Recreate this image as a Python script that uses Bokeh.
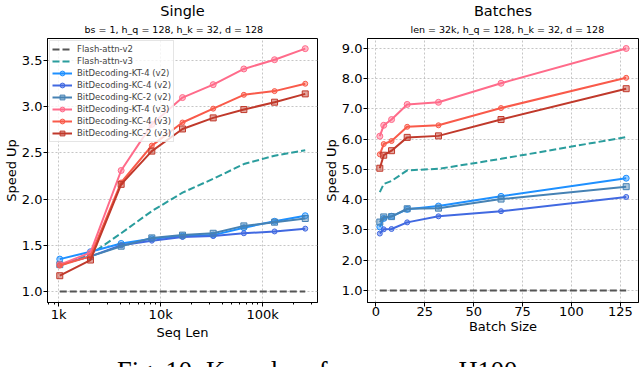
from bokeh.plotting import figure
from bokeh.models import Range1d, FixedTicker, PrintfTickFormatter, CustomJSTickFormatter, Label, Title
from bokeh.layouts import column, row
from bokeh.embed import file_html
from bokeh.resources import INLINE

# ---------------- data ----------------
series_names = ["Flash-attn-v2", "Flash-attn-v3",
                "BitDecoding-KT-4 (v2)", "BitDecoding-KC-4 (v2)", "BitDecoding-KC-2 (v2)",
                "BitDecoding-KT-4 (v3)", "BitDecoding-KC-4 (v3)", "BitDecoding-KC-2 (v3)"]

seq_len = [1024, 2048, 4096, 8192, 16384, 32768, 65536, 131072, 262144]
single_fa2 = [1.0, 1.0, 1.0, 1.0, 1.0, 1.0, 1.0, 1.0, 1.0]
single_fa3 = [1.28, 1.40, 1.63, 1.87, 2.07, 2.22, 2.38, 2.47, 2.53]
single_kt4_v2 = [1.35, 1.43, 1.52, 1.57, 1.60, 1.61, 1.69, 1.76, 1.82]
single_kc4_v2 = [1.29, 1.38, 1.50, 1.55, 1.59, 1.60, 1.63, 1.65, 1.68]
single_kc2_v2 = [1.29, 1.38, 1.49, 1.58, 1.61, 1.63, 1.71, 1.75, 1.79]
single_kt4_v3 = [1.29, 1.42, 2.31, 2.81, 3.10, 3.24, 3.41, 3.51, 3.63]
single_kc4_v3 = [1.28, 1.38, 2.18, 2.58, 2.83, 2.98, 3.13, 3.17, 3.25]
single_kc2_v3 = [1.17, 1.34, 2.16, 2.52, 2.76, 2.88, 2.97, 3.05, 3.14]

batch_size = [2, 4, 8, 16, 32, 64, 128]
batch_fa2 = [1.0, 1.0, 1.0, 1.0, 1.0, 1.0, 1.0]
batch_fa3 = [4.25, 4.52, 4.62, 4.97, 5.02, 5.35, 6.07]
batch_kt4_v2 = [3.10, 3.38, 3.45, 3.68, 3.79, 4.11, 4.71]
batch_kc4_v2 = [2.88, 3.02, 3.03, 3.25, 3.45, 3.62, 4.09]
batch_kc2_v2 = [3.26, 3.43, 3.44, 3.70, 3.72, 4.02, 4.43]
batch_kt4_v3 = [6.10, 6.46, 6.65, 7.15, 7.22, 7.85, 9.00]
batch_kc4_v3 = [5.50, 5.84, 5.94, 6.41, 6.46, 7.03, 8.03]
batch_kc2_v3 = [5.04, 5.47, 5.62, 6.06, 6.11, 6.65, 7.67]

single_ticks_y = [1.0, 1.5, 2.0, 2.5, 3.0, 3.5]
single_ticks_x = [1000, 10000, 100000]
single_minor_x = [800, 900, 2000, 3000, 4000, 5000, 6000, 7000, 8000, 9000,
                  20000, 30000, 40000, 50000, 60000, 70000, 80000, 90000, 200000, 300000]
batch_ticks_y = [1.0, 2.0, 3.0, 4.0, 5.0, 6.0, 7.0, 8.0, 9.0]
batch_ticks_x = [0, 25, 50, 75, 100, 125]

colors = ["#555555", "#2a9d9d", "#1e90ff", "#4169e1", "#4682b4", "#ff6b8a", "#f95a4a", "#c0392b"]
markers = [None, None, "circle", "circle", "square", "circle", "circle", "square"]
msizes = [0, 0, 6, 5, 6, 6, 5, 6]

FONT = "DejaVu Sans"
H = 342


def style(p, yticks, ylab, xlab):
    for ax in (p.xaxis, p.yaxis):
        ax.major_label_text_font = FONT
        ax.major_label_text_font_size = "13px"
        ax.major_label_text_color = "black"
        ax.axis_label_text_font = FONT
        ax.axis_label_text_font_size = "13px"
        ax.axis_label_text_font_style = "normal"
        ax.axis_label_text_color = "black"
        ax.major_tick_in = 0
        ax.major_tick_out = 4
        ax.minor_tick_in = 0
        ax.minor_tick_out = 2
        ax.axis_label_standoff = 0
        ax.axis_line_color = "black"
        ax.major_tick_line_color = "black"
    p.xaxis.major_label_standoff = 0
    p.yaxis.major_label_standoff = 1
    p.yaxis.minor_tick_line_color = None
    p.yaxis.axis_label = ylab
    p.xaxis.axis_label = xlab
    p.yaxis.ticker = FixedTicker(ticks=yticks)
    p.yaxis.formatter = PrintfTickFormatter(format="%.1f")
    p.grid.grid_line_color = "#b8b8b8"
    p.grid.grid_line_dash = "2 2"
    p.grid.grid_line_alpha = 0.8
    p.outline_line_color = "black"
    p.outline_line_alpha = 1


def draw(p, xs, ys_list, legend):
    for i, ys in enumerate(ys_list):
        kw = {}
        if legend:
            kw["legend_label"] = series_names[i]
        if i < 2:
            p.line(xs, ys, line_color=colors[i], line_width=2, line_dash="7 3", **kw)
        else:
            p.line(xs, ys, line_color=colors[i], line_width=2, **kw)
            p.scatter(xs, ys, marker=markers[i], size=msizes[i], line_color=colors[i],
                      fill_color=colors[i], fill_alpha=0.45, line_width=1, **kw)


def titles(p, main, sub, sub_left):
    p.add_layout(Title(text=sub, text_font=FONT, text_font_size="9.5px",
                       text_font_style="normal", text_color="black",
                       align="left", offset=sub_left, standoff=7), "above")
    p.add_layout(Title(text=main, text_font=FONT, text_font_size="14.5px",
                       text_font_style="normal", text_color="black",
                       align="center", standoff=0), "above")


# ---------------- left: Single ----------------
p1 = figure(width=320, height=H, x_axis_type="log", title=None,
            x_range=Range1d(776, 345800), y_range=Range1d(0.88, 3.74),
            output_backend="svg", toolbar_location=None,
            min_border_left=42, min_border_right=3, min_border_top=38, min_border_bottom=40)
draw(p1, seq_len, [single_fa2, single_fa3, single_kt4_v2, single_kc4_v2, single_kc2_v2,
                   single_kt4_v3, single_kc4_v3, single_kc2_v3], True)
style(p1, single_ticks_y, "Speed Up", "Seq Len")
p1.xaxis.ticker = FixedTicker(ticks=single_ticks_x, minor_ticks=single_minor_x)
p1.xaxis.formatter = CustomJSTickFormatter(code="return (tick/1000).toFixed(0) + 'k';")
titles(p1, "Single", "bs = 1, h_q = 128, h_k = 32, d = 128", 37)

lg = p1.legend[0]
lg.location = "top_left"
lg.margin = 2
lg.padding = 2
lg.spacing = 0
lg.glyph_width = 20
lg.glyph_height = 12
lg.label_height = 12
lg.label_standoff = 5
lg.label_text_font = FONT
lg.label_text_font_size = "8.5px"
lg.border_line_color = "#cccccc"
lg.background_fill_alpha = 0.8

# ---------------- right: Batches ----------------
p2 = figure(width=320, height=H, title=None,
            x_range=Range1d(-4.3, 134.3), y_range=Range1d(0.6, 9.33),
            output_backend="svg", toolbar_location=None,
            min_border_left=43, min_border_right=2, min_border_top=38, min_border_bottom=40)
draw(p2, batch_size, [batch_fa2, batch_fa3, batch_kt4_v2, batch_kc4_v2, batch_kc2_v2,
                      batch_kt4_v3, batch_kc4_v3, batch_kc2_v3], False)
style(p2, batch_ticks_y, "Speed Up", "Batch Size")
p2.xaxis.ticker = FixedTicker(ticks=batch_ticks_x)
p2.xaxis.minor_tick_line_color = None
titles(p2, "Batches", "len = 32k, h_q = 128, h_k = 32, d = 128", 43)

# ---------------- caption ----------------
p3 = figure(width=640, height=40, x_range=Range1d(0, 640), y_range=Range1d(0, 40),
            x_axis_location=None, y_axis_location=None, min_border=0, title=None,
            output_backend="svg", toolbar_location=None)
p3.grid.visible = False
p3.outline_line_color = None
p3.add_layout(Label(x=320, y=12, text="Fig. 10: Kernel performance on H100.",
                    text_align="center", text_baseline="alphabetic",
                    text_font="Liberation Serif", text_font_size="26.5px", text_color="black"))

layout = column(row(p1, p2), p3)
open("out.html", "w").write(file_html(layout, INLINE))
